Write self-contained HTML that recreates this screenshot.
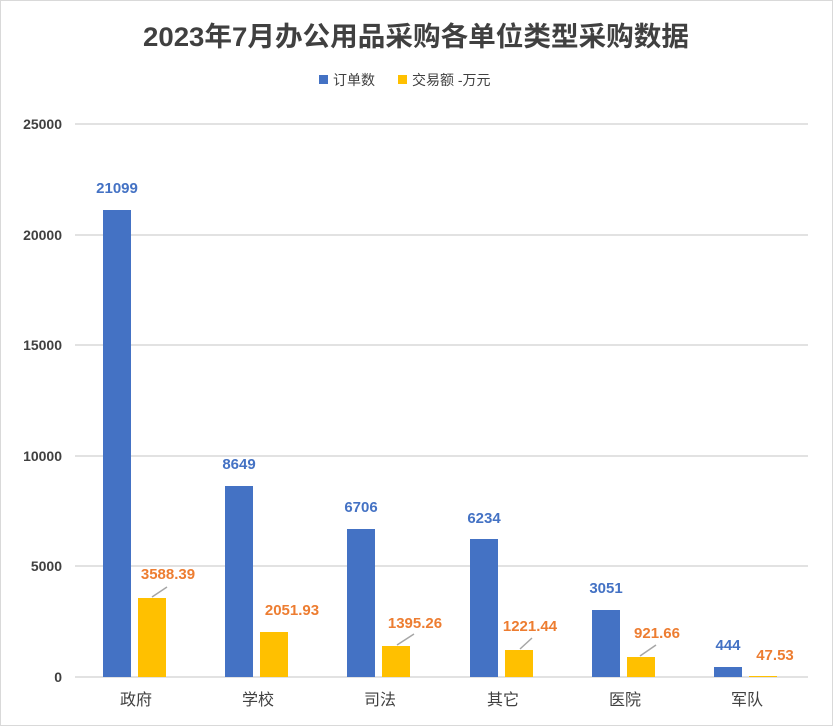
<!DOCTYPE html>
<html><head><meta charset="utf-8"><style>
body{margin:0;background:#fff}
svg{display:block}
text{font-family:"Liberation Sans","Noto Sans CJK SC",sans-serif}
</style></head><body>
<svg width="833" height="726" viewBox="0 0 833 726" xmlns="http://www.w3.org/2000/svg">
<rect x="0.5" y="0.5" width="832" height="725" fill="#fff" stroke="#d9d9d9"/>
<text x="416" y="46" text-anchor="middle" font-size="27" font-weight="bold" fill="#404040" textLength="546" lengthAdjust="spacingAndGlyphs">2023年7月办公用品采购各单位类型采购数据</text>
<rect x="319" y="75" width="9" height="9" fill="#4472c4"/>
<text x="333" y="85" font-size="14" fill="#404040">订单数</text>
<rect x="398" y="75" width="9" height="9" fill="#ffc000"/>
<text x="412" y="85" font-size="14" fill="#404040">交易额 -万元</text>
<g stroke="#d9d9d9" stroke-width="1.5">
<line x1="75" x2="808" y1="124" y2="124"/><line x1="75" x2="808" y1="235" y2="235"/>
<line x1="75" x2="808" y1="345" y2="345"/><line x1="75" x2="808" y1="456" y2="456"/>
<line x1="75" x2="808" y1="566" y2="566"/><line x1="75" x2="808" y1="677" y2="677"/>
</g>
<g font-size="14" font-weight="bold" fill="#404040" text-anchor="end">
<text x="62" y="129">25000</text><text x="62" y="240">20000</text><text x="62" y="350">15000</text>
<text x="62" y="461">10000</text><text x="62" y="571">5000</text><text x="62" y="682">0</text>
</g>
<g fill="#4472c4">
<rect x="103" y="210" width="28" height="467"/>
<rect x="225" y="486" width="28" height="191"/>
<rect x="347" y="529" width="28" height="148"/>
<rect x="470" y="539" width="28" height="138"/>
<rect x="592" y="610" width="28" height="67"/>
<rect x="714" y="667" width="28" height="10"/>
</g>
<g fill="#ffc000">
<rect x="138" y="598" width="28" height="79"/>
<rect x="260" y="632" width="28" height="45"/>
<rect x="382" y="646" width="28" height="31"/>
<rect x="505" y="650" width="28" height="27"/>
<rect x="627" y="657" width="28" height="20"/>
<rect x="749" y="676" width="28" height="1"/>
</g>
<g stroke="#a6a6a6" stroke-width="1.5">
<line x1="152" y1="597" x2="167" y2="587"/>
<line x1="397" y1="645" x2="414" y2="634"/>
<line x1="520" y1="649" x2="532" y2="638"/>
<line x1="640" y1="656" x2="656" y2="645"/>
</g>
<g font-size="15" font-weight="bold" fill="#4472c4" text-anchor="middle">
<text x="117" y="193">21099</text><text x="239" y="469">8649</text><text x="361" y="512">6706</text>
<text x="484" y="523">6234</text><text x="606" y="593">3051</text><text x="728" y="650">444</text>
</g>
<g font-size="15" font-weight="bold" fill="#ed7d31" text-anchor="middle">
<text x="168" y="579">3588.39</text><text x="292" y="615">2051.93</text><text x="415" y="628">1395.26</text>
<text x="530" y="631">1221.44</text><text x="657" y="638">921.66</text><text x="775" y="660">47.53</text>
</g>
<g font-size="16" fill="#404040" text-anchor="middle">
<text x="136" y="705">政府</text><text x="258" y="705">学校</text><text x="380" y="705">司法</text>
<text x="503" y="705">其它</text><text x="625" y="705">医院</text><text x="747" y="705">军队</text>
</g>
</svg>
</body></html>
